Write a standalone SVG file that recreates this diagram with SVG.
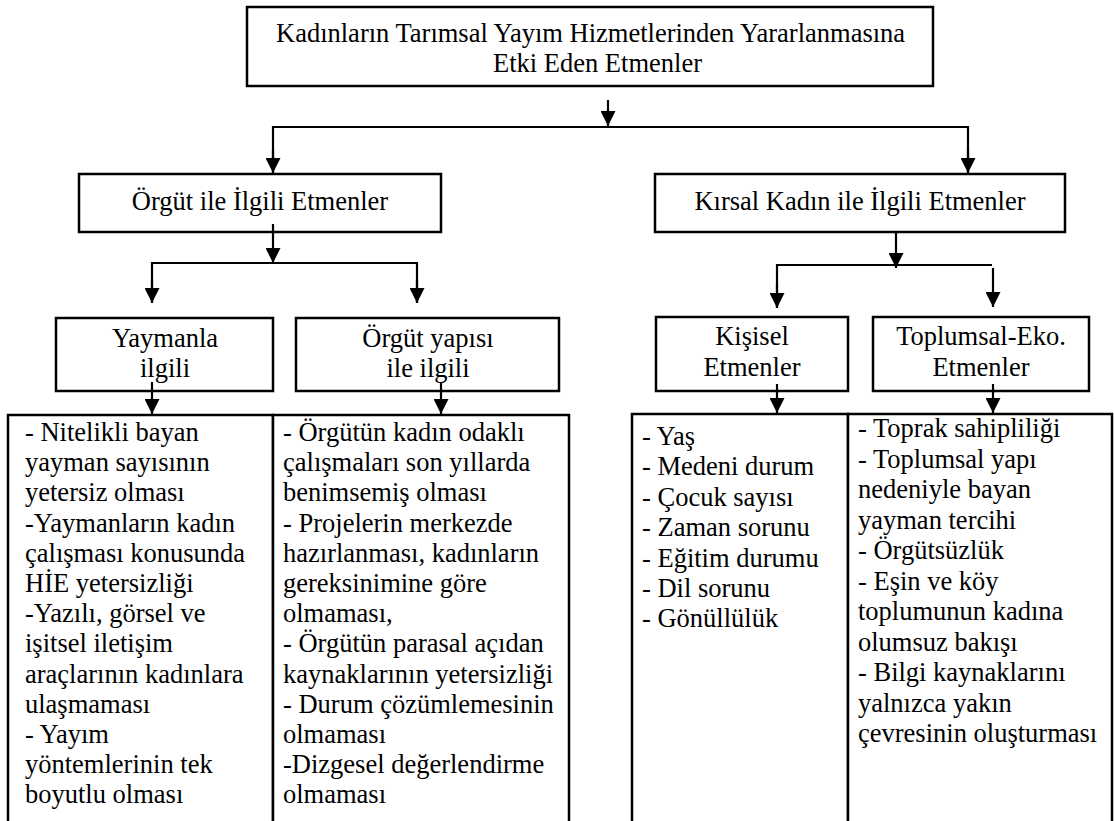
<svg xmlns="http://www.w3.org/2000/svg" width="1114" height="821" viewBox="0 0 1114 821">
<defs>
<style>
.box{fill:#fff;stroke:#000;stroke-width:2.5}
.ln{fill:none;stroke:#000;stroke-width:2.2}
.t{font-family:"Liberation Serif","Times New Roman",serif;font-size:26.5px;fill:#000}
.c{text-anchor:middle}
</style>
<marker id="ah" viewBox="0 0 15 15" refX="15" refY="7.5" markerWidth="15" markerHeight="15" markerUnits="userSpaceOnUse" orient="auto">
<path d="M0,0 L15,7.5 L0,15 Z" fill="#000"/>
</marker>
</defs>
<rect width="1114" height="821" fill="#fff"/>

<g id="top">
<rect class="box" x="247" y="7" width="686" height="79"/>
<text class="t" x="276" y="42">Kadınların Tarımsal Yayım Hizmetlerinden Yararlanmasına</text>
<text class="t" x="493" y="72">Etki Eden Etmenler</text>
</g>

<g id="orgut">
<rect class="box" x="79" y="174" width="362" height="58"/>
<text class="t c" x="260" y="210">Örgüt ile İlgili Etmenler</text>
</g>

<g id="kirsal">
<rect class="box" x="655" y="174" width="410" height="58"/>
<text class="t c" x="860" y="210">Kırsal Kadın ile İlgili Etmenler</text>
</g>

<g id="yaymanla">
<rect class="box" x="56" y="318" width="217" height="73"/>
<text class="t c" x="165" y="347">Yaymanla</text>
<text class="t c" x="165" y="377">ilgili</text>
</g>

<g id="orgutyapi">
<rect class="box" x="296" y="318" width="263" height="73"/>
<text class="t c" x="428" y="347">Örgüt yapısı</text>
<text class="t c" x="428" y="377">ile ilgili</text>
</g>

<g id="kisisel">
<rect class="box" x="656" y="317" width="192" height="74"/>
<text class="t c" x="752" y="345">Kişisel</text>
<text class="t c" x="752" y="376">Etmenler</text>
</g>

<g id="toplumsal">
<rect class="box" x="873" y="317" width="216" height="74"/>
<text class="t c" x="981" y="345">Toplumsal-Eko.</text>
<text class="t c" x="981" y="376">Etmenler</text>
</g>

<g id="list1">
<rect class="box" x="8" y="415" width="265" height="420"/>
<text class="t" x="25" y="441">
<tspan x="25" dy="0">- Nitelikli bayan</tspan>
<tspan x="25" dy="30.2">yayman sayısının</tspan>
<tspan x="25" dy="30.2">yetersiz olması</tspan>
<tspan x="25" dy="30.2">-Yaymanların kadın</tspan>
<tspan x="25" dy="30.2">çalışması konusunda</tspan>
<tspan x="25" dy="30.2">HİE yetersizliği</tspan>
<tspan x="25" dy="30.2">-Yazılı, görsel ve</tspan>
<tspan x="25" dy="30.2">işitsel iletişim</tspan>
<tspan x="25" dy="30.2">araçlarının kadınlara</tspan>
<tspan x="25" dy="30.2">ulaşmaması</tspan>
<tspan x="25" dy="30.2">- Yayım</tspan>
<tspan x="25" dy="30.2">yöntemlerinin tek</tspan>
<tspan x="25" dy="30.2">boyutlu olması</tspan>
</text>
</g>

<g id="list2">
<rect class="box" x="273" y="415" width="296" height="420"/>
<text class="t" x="283" y="441">
<tspan x="283" dy="0">- Örgütün kadın odaklı</tspan>
<tspan x="283" dy="30.2">çalışmaları son yıllarda</tspan>
<tspan x="283" dy="30.2">benimsemiş olması</tspan>
<tspan x="283" dy="30.2">- Projelerin merkezde</tspan>
<tspan x="283" dy="30.2">hazırlanması, kadınların</tspan>
<tspan x="283" dy="30.2">gereksinimine göre</tspan>
<tspan x="283" dy="30.2">olmaması,</tspan>
<tspan x="283" dy="30.2">- Örgütün parasal açıdan</tspan>
<tspan x="283" dy="30.2">kaynaklarının yetersizliği</tspan>
<tspan x="283" dy="30.2">- Durum çözümlemesinin</tspan>
<tspan x="283" dy="30.2">olmaması</tspan>
<tspan x="283" dy="30.2">-Dizgesel değerlendirme</tspan>
<tspan x="283" dy="30.2">olmaması</tspan>
</text>
</g>

<g id="list3">
<rect class="box" x="632" y="414" width="216" height="420"/>
<text class="t" x="642" y="445">
<tspan x="642" dy="0">- Yaş</tspan>
<tspan x="642" dy="30.4">- Medeni durum</tspan>
<tspan x="642" dy="30.4">- Çocuk sayısı</tspan>
<tspan x="642" dy="30.4">- Zaman sorunu</tspan>
<tspan x="642" dy="30.4">- Eğitim durumu</tspan>
<tspan x="642" dy="30.4">- Dil sorunu</tspan>
<tspan x="642" dy="30.4">- Gönüllülük</tspan>
</text>
</g>

<g id="list4">
<rect class="box" x="848" y="414" width="264" height="420"/>
<text class="t" x="858" y="437">
<tspan x="858" dy="0">- Toprak sahipliliği</tspan>
<tspan x="858" dy="30.5">- Toplumsal yapı</tspan>
<tspan x="858" dy="30.5">nedeniyle bayan</tspan>
<tspan x="858" dy="30.5">yayman tercihi</tspan>
<tspan x="858" dy="30.5">- Örgütsüzlük</tspan>
<tspan x="858" dy="30.5">- Eşin ve köy</tspan>
<tspan x="858" dy="30.5">toplumunun kadına</tspan>
<tspan x="858" dy="30.5">olumsuz bakışı</tspan>
<tspan x="858" dy="30.5">- Bilgi kaynaklarını</tspan>
<tspan x="858" dy="30.5">yalnızca yakın</tspan>
<tspan x="858" dy="30.5">çevresinin oluşturması</tspan>
</text>
</g>

<g id="connectors">
<line class="ln" x1="608" y1="100" x2="608" y2="126" marker-end="url(#ah)"/>
<polyline class="ln" points="273,173 273,127 968,127 968,173"/>
<line class="ln" x1="273" y1="150" x2="273" y2="173" marker-end="url(#ah)"/>
<line class="ln" x1="968" y1="150" x2="968" y2="173" marker-end="url(#ah)"/>

<line class="ln" x1="273" y1="224" x2="273" y2="263" marker-end="url(#ah)"/>
<polyline class="ln" points="152,303 152,263 417,263 417,303"/>
<line class="ln" x1="152" y1="280" x2="152" y2="303" marker-end="url(#ah)"/>
<line class="ln" x1="417" y1="280" x2="417" y2="303" marker-end="url(#ah)"/>

<line class="ln" x1="896" y1="232" x2="896" y2="268" marker-end="url(#ah)"/>
<polyline class="ln" points="777,308 777,265 992,265"/>
<line class="ln" x1="777" y1="285" x2="777" y2="308" marker-end="url(#ah)"/>
<line class="ln" x1="993" y1="268" x2="993" y2="307" marker-end="url(#ah)"/>

<line class="ln" x1="152" y1="382" x2="152" y2="414" marker-end="url(#ah)"/>
<line class="ln" x1="441" y1="382" x2="441" y2="414" marker-end="url(#ah)"/>
<line class="ln" x1="777" y1="384" x2="777" y2="413" marker-end="url(#ah)"/>
<line class="ln" x1="993" y1="384" x2="993" y2="413" marker-end="url(#ah)"/>
</g>
</svg>
